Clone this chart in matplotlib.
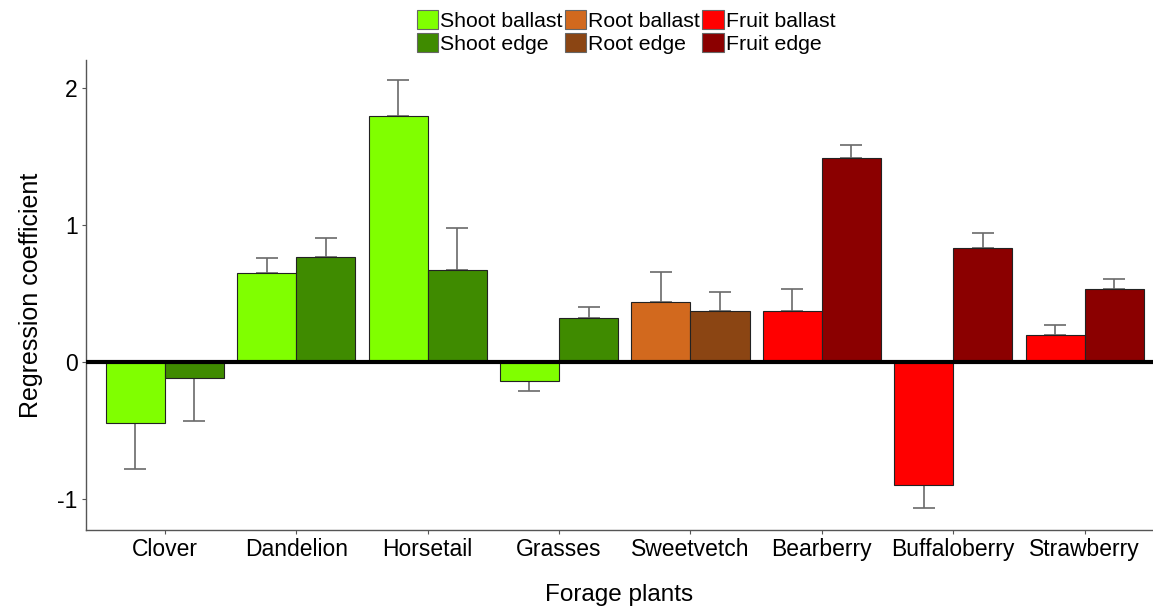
import matplotlib.pyplot as plt
from matplotlib.patches import Patch

plt.rcParams['font.family'] = ['Liberation Sans', 'DejaVu Sans']

plants = ["Clover", "Dandelion", "Horsetail", "Grasses",
          "Sweetvetch", "Bearberry", "Buffaloberry", "Strawberry"]
ballast = [-0.45, 0.65, 1.80, -0.14, 0.44, 0.37, -0.90, 0.20]
ballast_se = [0.33, 0.11, 0.26, 0.07, 0.22, 0.16, 0.17, 0.07]
edge = [-0.12, 0.77, 0.67, 0.32, 0.37, 1.49, 0.83, 0.53]
edge_se = [0.31, 0.14, 0.31, 0.08, 0.14, 0.10, 0.11, 0.08]
part = ["Shoot", "Shoot", "Shoot", "Shoot", "Root", "Fruit", "Fruit", "Fruit"]

colors = {
    "Shoot ballast": "#80FF00", "Shoot edge": "#3F8B00",
    "Root ballast": "#D2691E", "Root edge": "#8B4513",
    "Fruit ballast": "#FF0000", "Fruit edge": "#8B0000",
}

fig = plt.figure(figsize=(11.53, 6.10), dpi=100)
ax = fig.add_axes([0.0746, 0.131, 0.9254, 0.771])

w = 0.45
x = list(range(len(plants)))
for i, p in enumerate(plants):
    for off, val, se, kind in [(-w / 2, ballast[i], ballast_se[i], "ballast"),
                               (w / 2, edge[i], edge_se[i], "edge")]:
        c = colors[f"{part[i]} {kind}"]
        ax.bar(x[i] + off, val, width=w, color=c, edgecolor="#222222",
               linewidth=0.8, zorder=2)
        err = [[0], [se]] if val >= 0 else [[se], [0]]
        ax.errorbar(x[i] + off, val, yerr=err, fmt="none", ecolor="#6a6a6a",
                    elinewidth=1.2, capsize=8, capthick=1.2, zorder=1)

ax.axhline(0, color="black", linewidth=3, zorder=3)

ax.set_xlim(-0.6, 7.52)
ax.set_ylim(-1.23, 2.21)
ax.set_xticks(x)
ax.set_xticklabels(plants, fontsize=16.5)
ax.set_yticks([-1, 0, 1, 2])
ax.set_yticklabels(["-1", "0", "1", "2"], fontsize=16.5)
ax.tick_params(length=3, color="#555555", pad=3)
for s in ["top", "right"]:
    ax.spines[s].set_visible(False)
for s in ["left", "bottom"]:
    ax.spines[s].set_color("#555555")
    ax.spines[s].set_linewidth(1)

ax.set_xlabel("Forage plants", fontsize=17.5, labelpad=16)
ax.set_ylabel("Regression coefficient", fontsize=18, labelpad=10)

handles = [Patch(facecolor=c, edgecolor="#666666", linewidth=0.8, label=k)
           for k, c in colors.items()]
fig.legend(handles=handles, ncol=3, loc="upper center",
           bbox_to_anchor=(0.543, 1.008), frameon=False, fontsize=15.3,
           handlelength=1.0, handleheight=1.0, handletextpad=0.1,
           columnspacing=0.1, labelspacing=0.1, borderpad=0.2)

fig.savefig("out.png", dpi=100)
